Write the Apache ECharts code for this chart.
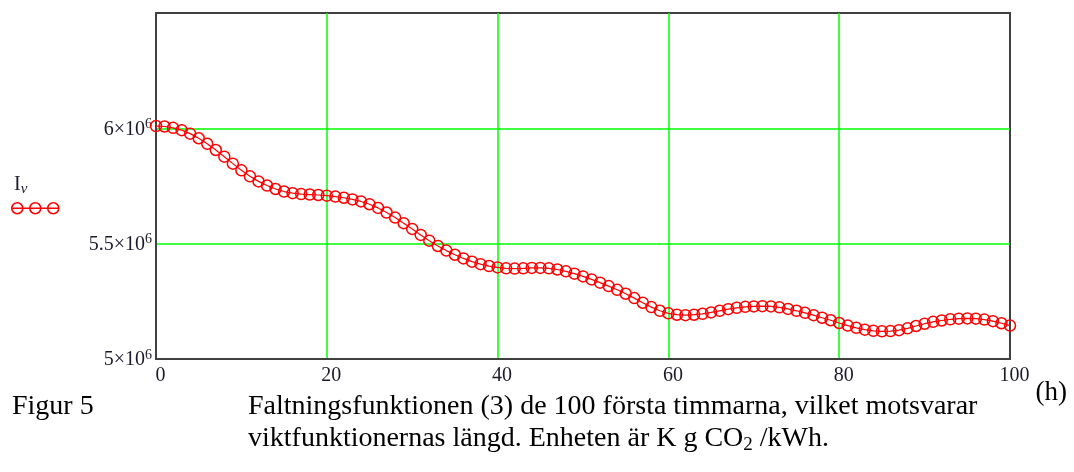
<!DOCTYPE html>
<html>
<head>
<meta charset="utf-8">
<title>Faltningsfunktionen</title>
<script src="https://cdn.jsdelivr.net/npm/echarts@6/dist/echarts.min.js"></script>
<style>
    html, body { margin: 0; padding: 0; background: #fff; }
    #chart { width: 1074px; height: 472px; }
</style>
</head>
<body>
<div id="chart"></div>
<script>
// timmar 0..100
var hours = [];
for (var h = 0; h <= 100; h++) hours.push(h);

// I_nu, enhet 10^6
var iNu = [
    6.010, 6.008, 6.002, 5.992, 5.977, 5.957, 5.933, 5.906, 5.877, 5.847,
    5.818, 5.792, 5.770, 5.752, 5.737, 5.726, 5.719, 5.715, 5.713, 5.711,
    5.708, 5.704, 5.699, 5.692, 5.683, 5.671, 5.655, 5.635, 5.613, 5.589,
    5.564, 5.538, 5.513, 5.490, 5.470, 5.452, 5.436, 5.422, 5.411, 5.403,
    5.397, 5.393, 5.392, 5.393, 5.395, 5.395, 5.393, 5.388, 5.380, 5.370,
    5.358, 5.345, 5.331, 5.316, 5.300, 5.283, 5.264, 5.244, 5.225, 5.209,
    5.198, 5.192, 5.190, 5.192, 5.196, 5.202, 5.209, 5.216, 5.222, 5.226,
    5.228, 5.229, 5.228, 5.224, 5.217, 5.209, 5.200, 5.190, 5.179, 5.168,
    5.156, 5.145, 5.135, 5.127, 5.122, 5.120, 5.121, 5.125, 5.133, 5.143,
    5.153, 5.161, 5.167, 5.172, 5.175, 5.176, 5.175, 5.171, 5.164, 5.155,
    5.145
];

var yTicks = ['5', '5.5', '6'];

var serif = '"Liberation Serif", "DejaVu Serif", serif';
var red = '#ff0000';
var green = '#00ff00';
var ink = '#1a1a2a';

var myChart = echarts.init(document.getElementById('chart'));
option = {
    backgroundColor: '#ffffff',
    animation: false,
    grid: {
        left: 156, right: 64, top: 13, bottom: 113,
        show: true,
        borderColor: '#404040',
        borderWidth: 2
    },
    legend: {
        data: ['Iv'],
        left: 11, top: 202,
        padding: 0,
        itemWidth: 47, itemHeight: 11,
        icon: 'path://M0 5.5 H47 M0 5.5 A5.5 5.5 0 1 1 11 5.5 A5.5 5.5 0 1 1 0 5.5 Z M18 5.5 A5.5 5.5 0 1 1 29 5.5 A5.5 5.5 0 1 1 18 5.5 Z M36 5.5 A5.5 5.5 0 1 1 47 5.5 A5.5 5.5 0 1 1 36 5.5 Z',
        itemStyle: { color: 'rgba(255,255,255,0)', borderColor: red, borderWidth: 1.5 },
        formatter: function () { return ''; },
        selectedMode: false
    },
    xAxis: {
        type: 'value',
        min: 0, max: 100, interval: 20,
        name: '(h)',
        nameLocation: 'end',
        nameGap: 20,
        nameTextStyle: { fontFamily: serif, fontSize: 27, color: '#000', verticalAlign: 'top', padding: [20, 0, 0, 0] },
        axisLine: { lineStyle: { color: '#404040', width: 2 } },
        axisTick: { show: false },
        axisLabel: { fontFamily: serif, fontSize: 20, color: ink, margin: 7, padding: [0, 0, 0, 9] },
        splitLine: { show: true, showMinLine: false, showMaxLine: false, lineStyle: { color: green, width: 1.5 } }
    },
    yAxis: {
        type: 'value',
        min: 5, max: 6.5, interval: 0.5,
        axisLine: { show: true, lineStyle: { color: '#404040', width: 2 } },
        axisTick: { show: false },
        axisLabel: {
            margin: 4,
            showMaxLabel: false,
            formatter: function (v) {
                var t = yTicks.filter(function (s) { return Math.abs(parseFloat(s) - v) < 1e-6; })[0];
                return t ? '{m|' + t + '×10}{e|6}' : '';
            },
            rich: {
                m: { fontFamily: serif, fontSize: 20, color: ink, lineHeight: 22, verticalAlign: 'bottom' },
                e: { fontFamily: serif, fontSize: 14, color: ink, lineHeight: 22, verticalAlign: 'top', padding: [0, 0, 10, 0] }
            }
        },
        splitLine: { show: true, showMinLine: false, showMaxLine: false, lineStyle: { color: green, width: 1.5 } }
    },
    graphic: [
        {
            type: 'text', left: 14, top: 175,
            style: {
                text: '{i|I}{s|ν}',
                rich: {
                    i: { fontFamily: serif, fontSize: 20, fill: ink },
                    s: { fontFamily: serif, fontSize: 15, fontStyle: 'italic', fill: ink, padding: [9, 0, 0, 0] }
                }
            }
        },
        {
            type: 'text', left: 12, top: 393,
            style: { text: 'Figur 5', font: '28px ' + serif, fill: '#000' }
        },
        {
            type: 'text', left: 248, top: 393,
            style: { text: 'Faltningsfunktionen (3) de 100 första timmarna, vilket motsvarar', font: '28px ' + serif, fill: '#000' }
        },
        {
            type: 'text', left: 248, top: 425,
            style: {
                text: '{a|viktfunktionernas längd. Enheten är K g CO}{s|2}{a| /kWh.}',
                rich: {
                    a: { fontFamily: serif, fontSize: 28, fill: '#000' },
                    s: { fontFamily: serif, fontSize: 19, fill: '#000', padding: [12, 0, 0, 0] }
                }
            }
        }
    ],
    series: [
        {
            name: 'Iv',
            type: 'line',
            data: hours.map(function (h, i) { return [h, iNu[i]]; }),
            symbol: 'circle',
            symbolSize: 11,
            showAllSymbol: true,
            itemStyle: { color: 'rgba(255,255,255,0)', borderColor: red, borderWidth: 1.5 },
            lineStyle: { color: red, width: 1.2 }
        }
    ]
};
myChart.setOption(option);
</script>
</body>
</html>
